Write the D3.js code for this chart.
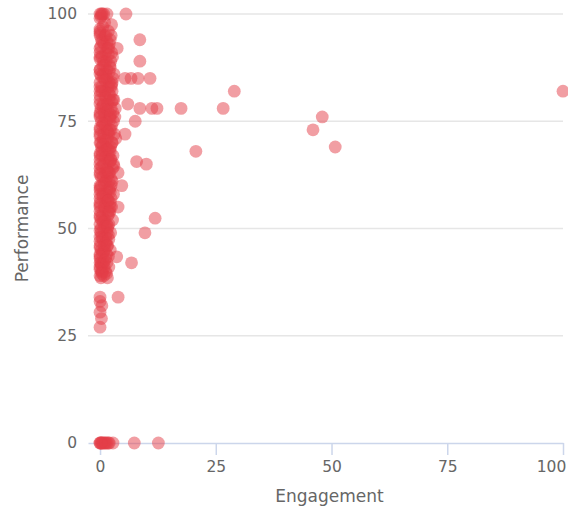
<!DOCTYPE html>
<html>
<head>
<meta charset="utf-8">
<script src="https://cdn.jsdelivr.net/npm/d3@7"></script>
<style>
  body { margin: 0; background: #fff; }
  svg text { font-family: "DejaVu Sans", sans-serif; fill: #666; }
</style>
</head>
<body>
<div id="chart"></div>
<script>
// main column near zero engagement
const colX = [0, 0.3, 0.8, 1.5, 0, 1, 2.5, 0.2, 0.5,
  0, 1, 0.3, 2, 0, 1.2, 0, 2.3, 0.6, 1.5, 0, 2.8, 0.8, 0, 1.8, 0.4, 2.6, 1, 0, 3, 1.6, 0.2, 2.4,
  0.9, 0, 3.2, 1.4, 0.5, 2.5, 0, 1.9, 0.7, 3.4, 0, 1.3, 2.2, 0.4, 0, 1.7, 0.8, 2.7, 0, 1.1,
  0.3, 2, 0, 1.5, 0.6, 2.4, 0, 1.2, 0, 1.8, 0.5, 1, 0, 1.6, 0.2, 1.2, 0, 0.9, 0.3, 1.4,
  0, 0.7, 0, 0.5, 0, 0.2,
  0, 0.5, 0, 0.8, 0, 1.2, 2, 0, 2.2, 0, 2.8, 1, 1.5, 0, 2.6, 0.3, 1.9, 0, 2.9, 0,
  1.6, 2.4, 0, 1.2, 0, 2.2, 0, 1.4, 0.2, 0, 1.6, 0, 0.2, 1.2];
const colY = [100, 100, 100, 100, 99, 98, 97.5, 99.5, 100,
  96, 95, 94, 93, 92, 91, 90, 89, 88, 87, 86, 85, 85, 84, 83, 82, 82, 81, 80, 80, 79, 78, 78,
  77, 76, 76, 75, 74, 74, 73, 72, 71, 71, 70, 69, 68, 68, 67, 66, 65, 64, 64, 63,
  62, 61, 60, 59, 58, 57, 57, 56, 55, 54, 53, 52, 51, 50, 49, 48, 47, 46, 45, 44,
  43, 42, 41, 40, 39, 38.5,
  95.5, 93.5, 91, 89, 87, 86, 84, 83, 81, 79, 77, 76, 73, 72, 70, 69, 67, 66, 65, 63,
  62, 60, 59, 58, 56, 55, 53, 51, 50, 48, 46, 44, 42, 40];

const col2X = [0.6, 1.8, 0, 2.2, 0.9, 1.6, 2.5, 0.4, 1.3, 2.1, 0, 0.7, 1.5, 2.6, 0.4, 1.1, 0, 2, 0.7, 1.3,
  0, 2.1, 0.3, 1.1, 2.4, 0.8, 1.6, 0.2, 2.3, 1, 0.5, 2.3, 0, 1.4, 2.1, 0.7, 1.2, 0.3, 2, 0,
  1.4, 2.2, 0.9, 0, 1.7, 0.3, 1.9, 0.8, 1.5, 0.4, 1.3, 0, 1, 0.5, 1.2, 0, 0.9, 0.3, 0.8];
const col2Y = [97, 96, 95, 94, 93, 92, 91, 90, 89, 88, 87, 86, 85, 84, 83, 82, 81, 80, 79, 78,
  77, 76, 75, 74, 73, 72, 71, 70, 69, 68, 67, 66, 65, 64, 63, 62, 61, 60, 59, 58,
  57, 56, 55, 54, 53, 52, 51, 50, 49, 48, 47, 46, 45, 44, 43, 42, 41, 40, 39];

const col3X = [0, 1.3, 1.5, 0.2, 1.8, 0, 1, 2, 0.3, 1.1, 2.4, 0, 1.3, 2.5, 0.6, 1.7, 0, 2.2, 0.8, 0,
  1.7, 0, 1.1, 0.6, 1.6, 0, 1.1, 2.1, 0.4, 1.6, 0, 2.4, 0.9, 0, 2.2, 0.6, 1.7, 0, 1.1, 2,
  0, 0.7, 1.1, 0, 1.8, 0.6, 1.2, 0, 0.8, 0, 1, 0.3, 0, 0.4];
const col3Y = [96.5, 95, 93.5, 92.5, 90.5, 89.5, 88, 86.5, 85.5, 84.5, 83, 82, 80.5, 79.5, 78.5, 77.5, 76.5, 75.5, 74.5, 73.5,
  72.5, 71.5, 70.5, 69.5, 68.5, 67.5, 66.5, 65.5, 64.5, 63.5, 62.5, 61.5, 60.5, 59.5, 58.5, 57.5, 56.5, 55.5, 54.5, 53.5,
  52.5, 51.5, 50.5, 49.5, 48.5, 47.5, 46.5, 45.5, 44.5, 43.5, 42.5, 41.5, 40.5, 39.5];

const col4X = [2.4, 1.9, 2.7, 2.2, 3, 2.5, 1.9, 2.8, 3.3, 2.3, 2.9, 2.1, 3.1, 2.6, 2, 2.8, 2.4, 3, 1.9, 2.6,
  2.2, 2.9, 1.8, 2.5, 2.1, 2.7, 1.7, 2.3, 1.9, 1.6, 2.2, 1.8, 1.5, 1.9, 1.4, 1.6];
const col4Y = [95, 92, 90, 87.5, 86, 83.5, 81.5, 80, 78, 76.5, 75, 73, 72, 70, 68.5, 67, 66, 64.5, 63, 61,
  59.5, 58, 56.5, 55, 54, 52, 50.5, 49, 47.5, 46, 45, 43.5, 42, 41, 39.5, 38.5];

// scattered points further out
const outX = [5.6, 8.6, 3.7, 8.6, 5.4, 6.7, 8.2, 10.8, 6, 8.6, 11.2, 12.3, 17.5, 26.6, 29, 100,
  48, 46, 50.8, 20.7, 7.6, 5.4, 7.9, 10, 3.9, 4.7, 11.9, 9.7, 3.9, 3.6, 6.8,
  0, 3.9, 0, 0, 0.4, 0, 0.3];
const outY = [100, 94, 92, 89, 85, 85, 85, 85, 79, 78, 78, 78, 78, 78, 82, 82,
  76, 73, 69, 68, 75, 72, 65.6, 65, 63, 60, 52.4, 49, 55, 43.4, 42,
  34, 34, 30.5, 27, 32, 33, 29];

// zero performance row
const zeroX = [0, 0.5, 1, 1.5, 2, 2.8, 0.3, 1.2, 0, 0.7, 1.8, 0.2, 7.4, 12.6];
const zeroY = [0, 0, 0, 0, 0, 0, 0, 0, 0, 0, 0, 0, 0, 0];

const xTicks = [0, 25, 50, 75, 100];
const yTicks = [0, 25, 50, 75, 100];

const points = [];
[[colX, colY], [col2X, col2Y], [col3X, col3Y], [col4X, col4Y], [outX, outY], [zeroX, zeroY]].forEach(([xs, ys]) => {
  xs.forEach((x, i) => points.push({ x: x, y: ys[i] }));
});

const width = 568, height = 507;
const plot = { left: 88, right: 563, top: 14, bottom: 443 };

const svg = d3.select("#chart").append("svg")
  .attr("width", width)
  .attr("height", height);

const xScale = d3.scaleLinear().domain([-2.6, 100]).range([plot.left, plot.right]);
const yScale = d3.scaleLinear().domain([0, 100]).range([plot.bottom, plot.top]);

// horizontal grid
svg.append("g")
  .selectAll("line")
  .data(yTicks.filter(d => d !== 0))
  .join("line")
  .attr("x1", plot.left)
  .attr("x2", plot.right)
  .attr("y1", d => yScale(d))
  .attr("y2", d => yScale(d))
  .attr("stroke", "#e6e6e6")
  .attr("stroke-width", 1.5);

// x axis
const xAxis = svg.append("g")
  .attr("transform", `translate(0,${plot.bottom})`)
  .call(d3.axisBottom(xScale).tickValues(xTicks).tickSize(12).tickPadding(6).tickSizeOuter(0));
xAxis.select(".domain").attr("stroke", "#ccd6eb").attr("stroke-width", 1.5);
xAxis.selectAll(".tick line").attr("stroke", "#ccd6eb").attr("stroke-width", 1.5);
xAxis.selectAll(".tick text").style("font-size", "15.5px").attr("fill", "#666");
xAxis.selectAll(".tick text").filter(d => d === 100).attr("dx", "-12");

// y axis labels only
const yAxis = svg.append("g")
  .attr("transform", `translate(${plot.left},0)`)
  .call(d3.axisLeft(yScale).tickValues(yTicks).tickSize(0).tickPadding(11));
yAxis.select(".domain").remove();
yAxis.selectAll(".tick text").style("font-size", "15.5px").attr("fill", "#666");

// titles
svg.append("text")
  .attr("x", (plot.left + plot.right) / 2 + 4)
  .attr("y", 502)
  .attr("text-anchor", "middle")
  .style("font-size", "17px")
  .text("Engagement");

svg.append("text")
  .attr("transform", `translate(28,${(plot.top + plot.bottom) / 2}) rotate(-90)`)
  .attr("text-anchor", "middle")
  .style("font-size", "17px")
  .text("Performance");

// markers
svg.append("g")
  .selectAll("circle")
  .data(points)
  .join("circle")
  .attr("cx", d => xScale(d.x))
  .attr("cy", d => yScale(d.y))
  .attr("r", 6.4)
  .attr("fill", "rgba(228, 62, 72, 0.5)");
</script>
</body>
</html>
